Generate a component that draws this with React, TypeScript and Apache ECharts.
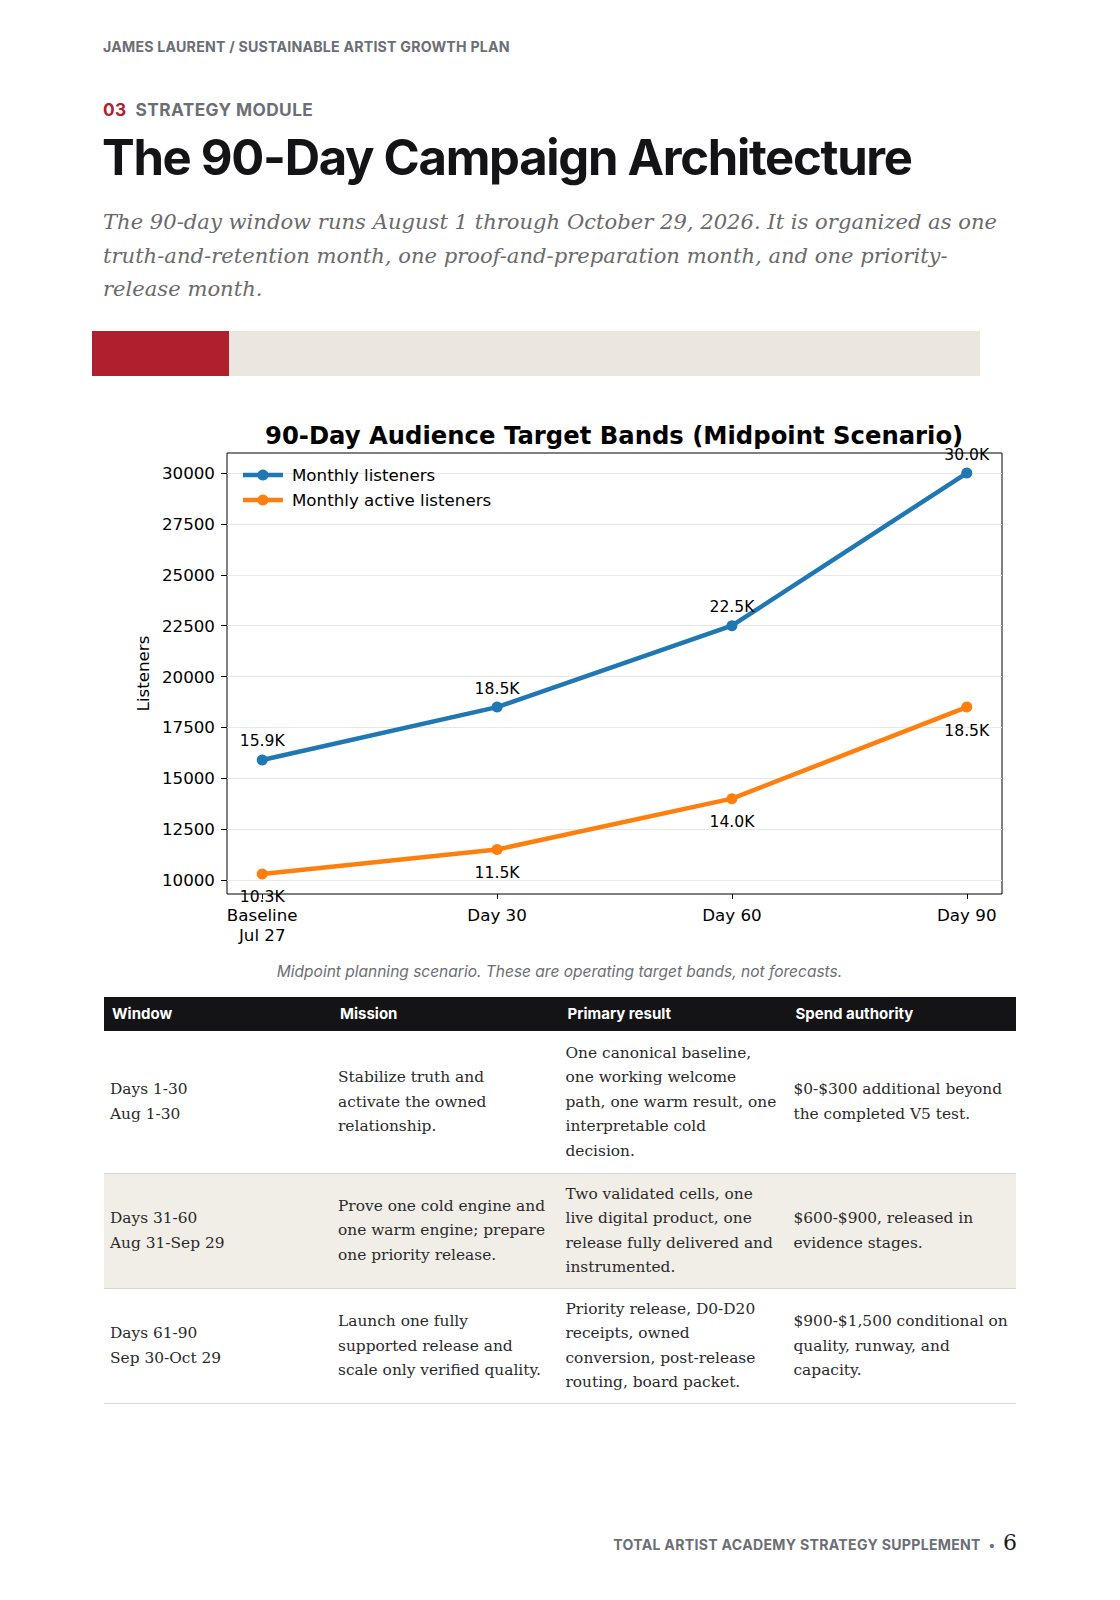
import React, { useEffect, useRef } from "react";
import * as echarts from "echarts";

const xLabels = ["Baseline\nJul 27", "Day 30", "Day 60", "Day 90"];
const monthlyListeners = [15900, 18500, 22500, 30000];
const monthlyActive = [10300, 11500, 14000, 18500];
const yTicks = [10000, 12500, 15000, 17500, 20000, 22500, 25000, 27500, 30000];
const seriesNames = ["Monthly listeners", "Monthly active listeners"];
const seriesColors = ["#1f77b4", "#ff7f0e"];

const subtitleLines = [
  "The 90-day window runs August 1 through October 29, 2026. It is organized as one",
  "truth-and-retention month, one proof-and-preparation month, and one priority-",
  "release month.",
];

const tableHeaders = ["Window", "Mission", "Primary result", "Spend authority"];
const tableRow1 = [
  ["Days 1-30", "Aug 1-30"],
  ["Stabilize truth and", "activate the owned", "relationship."],
  ["One canonical baseline,", "one working welcome", "path, one warm result, one", "interpretable cold", "decision."],
  ["$0-$300 additional beyond", "the completed V5 test."],
];
const tableRow2 = [
  ["Days 31-60", "Aug 31-Sep 29"],
  ["Prove one cold engine and", "one warm engine; prepare", "one priority release."],
  ["Two validated cells, one", "live digital product, one", "release fully delivered and", "instrumented."],
  ["$600-$900, released in", "evidence stages."],
];
const tableRow3 = [
  ["Days 61-90", "Sep 30-Oct 29"],
  ["Launch one fully", "supported release and", "scale only verified quality."],
  ["Priority release, D0-D20", "receipts, owned", "conversion, post-release", "routing, board packet."],
  ["$900-$1,500 conditional on", "quality, runway, and", "capacity."],
];
const tableRows = [tableRow1, tableRow2, tableRow3];
const rowHeights = [142, 115, 115.5];
const rowBgs = ["#ffffff", "#f1eee8", "#ffffff"];

const CHART_FONT = "DejaVu Sans";

function Chart() {
  const ref = useRef<HTMLDivElement>(null);
  useEffect(() => {
    if (!ref.current) return;
    const chart = echarts.init(ref.current, null, { renderer: "svg" });
    const mkSeries = (vals: number[], idx: number, off: number) => ({
      name: seriesNames[idx],
      type: "line",
      data: vals.map((v, i) => [i, v]),
      symbol: "circle",
      symbolSize: 11,
      color: seriesColors[idx],
      lineStyle: { color: seriesColors[idx], width: 4.5 },
      itemStyle: { color: seriesColors[idx] },
      z: 3,
      label: {
        show: true,
        position: "inside",
        offset: [0, off],
        formatter: (p: any) => (p.value[1] / 1000).toFixed(1) + "K",
        fontFamily: CHART_FONT,
        fontSize: 15.6,
        color: "#000",
      },
    });
    chart.setOption({
      animation: false,
      backgroundColor: "transparent",
      title: {
        text: "90-Day Audience Target Bands (Midpoint Scenario)",
        left: 265,
        top: 31,
        textStyle: {
          fontFamily: CHART_FONT,
          fontWeight: "bold",
          fontSize: 24.3,
          color: "#000",
          lineHeight: 28,
        },
        padding: 0,
      },
      legend: {
        orient: "vertical",
        left: 240.7,
        top: 75,
        itemWidth: 40,
        itemHeight: 14,
        itemGap: 5,
        padding: 0,
        lineStyle: { width: 4.5 },
        textStyle: {
          fontFamily: CHART_FONT,
          fontSize: 16.7,
          color: "#000",
          lineHeight: 20,
          padding: [0, 0, 0, 4],
        },
        data: seriesNames,
      },
      grid: {
        left: 227,
        right: 118,
        top: 63,
        bottom: 56,
        show: true,
        borderColor: "#000",
        borderWidth: 1,
        containLabel: false,
      },
      xAxis: {
        type: "value",
        min: -0.15,
        max: 3.15,
        axisLine: { show: false, onZero: false },
        splitLine: { show: false },
        axisTick: {
          show: true,
          inside: false,
          length: 5,
          customValues: [0, 1, 2, 3],
          lineStyle: { color: "#000", width: 1 },
        },
        axisLabel: {
          customValues: [0, 1, 2, 3],
          formatter: (v: number) => xLabels[Math.round(v)],
          fontFamily: CHART_FONT,
          fontSize: 16.7,
          color: "#000",
          lineHeight: 20,
          margin: 11,
        },
      },
      yAxis: {
        type: "value",
        min: 9315,
        max: 30985,
        name: "Listeners",
        nameLocation: "middle",
        nameGap: 66,
        nameTextStyle: { fontFamily: CHART_FONT, fontSize: 16.7, color: "#000" },
        axisLine: { show: false, onZero: false },
        axisTick: {
          show: true,
          inside: false,
          length: 6,
          customValues: yTicks,
          lineStyle: { color: "#000", width: 1 },
        },
        axisLabel: {
          customValues: yTicks,
          formatter: (v: number) => String(v),
          fontFamily: CHART_FONT,
          fontSize: 16.7,
          color: "#000",
          margin: 12,
        },
        splitLine: { show: true, lineStyle: { color: "#e6e6e6", width: 1 } },
      },
      series: [mkSeries(monthlyListeners, 0, -18.5), mkSeries(monthlyActive, 1, 23.5)],
    });
    return () => chart.dispose();
  }, []);
  return (
    <div
      ref={ref}
      style={{ position: "absolute", left: 0, top: 390, width: 1120, height: 560 }}
    />
  );
}

export default function App() {
  const gray = "#6b6e75";
  return (
    <div
      style={{
        position: "absolute",
        left: 0,
        top: 0,
        width: 1120,
        height: 1600,
        background: "#fff",
        fontFamily: "Inter, sans-serif",
        overflow: "hidden",
      }}
    >
      <div
        style={{
          position: "absolute",
          left: 103,
          top: 38,
          lineHeight: "18px",
          fontSize: 14.2,
          fontWeight: 700,
          color: gray,
          letterSpacing: 0.2,
          whiteSpace: "nowrap",
        }}
      >
        JAMES LAURENT / SUSTAINABLE ARTIST GROWTH PLAN
      </div>
      <div
        style={{
          position: "absolute",
          left: 103,
          top: 99,
          lineHeight: "22px",
          fontSize: 17.3,
          fontWeight: 700,
          color: gray,
          letterSpacing: 0.4,
          whiteSpace: "nowrap",
        }}
      >
        <span style={{ color: "#b1202f", marginRight: 9 }}>03</span>STRATEGY MODULE
      </div>
      <div
        style={{
          position: "absolute",
          left: 102,
          top: 128,
          lineHeight: "60px",
          fontSize: 49,
          fontWeight: 700,
          color: "#141416",
          letterSpacing: -1.3,
          whiteSpace: "nowrap",
        }}
      >
        The 90-Day Campaign Architecture
      </div>
      <div
        style={{
          position: "absolute",
          left: 103,
          top: 205,
          fontFamily: "'DejaVu Serif', serif",
          fontStyle: "italic",
          fontSize: 21.1,
          lineHeight: "33.5px",
          color: "#6a6a6a",
          whiteSpace: "nowrap",
        }}
      >
        {subtitleLines.map((l, i) => (
          <div key={i}>{l}</div>
        ))}
      </div>
      <div style={{ position: "absolute", left: 92, top: 331, width: 137, height: 45, background: "#b01f2e" }} />
      <div style={{ position: "absolute", left: 229, top: 331, width: 751, height: 45, background: "#ebe7e0" }} />

      <Chart />

      <div
        style={{
          position: "absolute",
          left: 0,
          width: 1119,
          top: 962,
          lineHeight: "20px",
          fontSize: 15.5,
          fontStyle: "italic",
          color: gray,
          textAlign: "center",
          whiteSpace: "nowrap",
        }}
      >
        Midpoint planning scenario. These are operating target bands, not forecasts.
      </div>

      <table
        style={{
          position: "absolute",
          left: 104,
          top: 996.5,
          width: 912,
          borderCollapse: "collapse",
          tableLayout: "fixed",
        }}
      >
        <colgroup>
          <col style={{ width: 228 }} />
          <col style={{ width: 227.5 }} />
          <col style={{ width: 228 }} />
          <col style={{ width: 228.5 }} />
        </colgroup>
        <thead>
          <tr style={{ height: 34.5, background: "#141416" }}>
            {tableHeaders.map((h, i) => (
              <th
                key={i}
                style={{
                  textAlign: "left",
                  padding: "0 0 0 8px",
                  color: "#fff",
                  fontSize: 15,
                  fontWeight: 700,
                  fontFamily: "Inter, sans-serif",
                }}
              >
                {h}
              </th>
            ))}
          </tr>
        </thead>
        <tbody>
          {tableRows.map((row, r) => (
            <tr
              key={r}
              style={{
                height: rowHeights[r],
                background: rowBgs[r],
                borderBottom: "1px solid #d6d6d6",
              }}
            >
              {row.map((lines, c) => (
                <td
                  key={c}
                  style={{
                    verticalAlign: "middle",
                    padding: "0 0 0 6px",
                    fontFamily: "'DejaVu Serif', serif",
                    fontSize: 15.4,
                    lineHeight: "24.5px",
                    color: "#2a2a2a",
                    whiteSpace: "nowrap",
                  }}
                >
                  {lines.map((l, k) => (
                    <div key={k}>{l}</div>
                  ))}
                </td>
              ))}
            </tr>
          ))}
        </tbody>
      </table>

      <div
        style={{
          position: "absolute",
          right: 103,
          top: 1529,
          lineHeight: "28px",
          whiteSpace: "nowrap",
          color: gray,
        }}
      >
        <span style={{ fontSize: 14.1, fontWeight: 700, letterSpacing: 0.3 }}>
          TOTAL ARTIST ACADEMY STRATEGY SUPPLEMENT
        </span>
        <span style={{ fontSize: 13, fontWeight: 700, margin: "0 8px" }}>•</span>
        <span style={{ fontFamily: "'DejaVu Serif', serif", fontSize: 22, color: "#1a1a1a" }}>6</span>
      </div>
    </div>
  );
}
